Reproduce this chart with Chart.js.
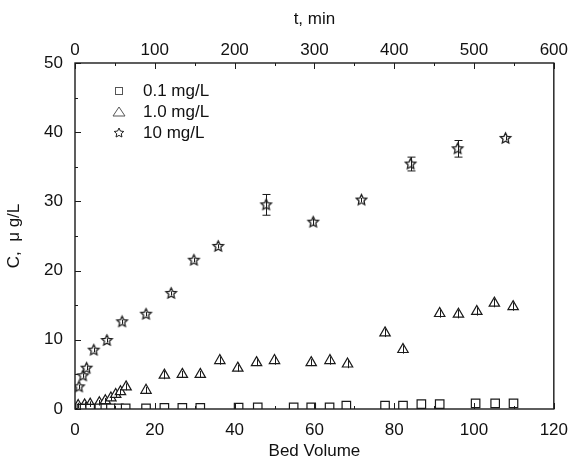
<!DOCTYPE html>
<html>
<head>
<meta charset="utf-8">
<script src="https://cdn.jsdelivr.net/npm/chart.js@4.4.0/dist/chart.umd.min.js"></script>
<style>
  body { margin: 0; background: #fff; }
</style>
</head>
<body>
<canvas id="chart" width="579" height="462"></canvas>
<script>
// 0.1 mg/L
const bvLow = [1.6, 2.4, 3.8, 6.1, 7.6, 9.0, 11.0, 12.7, 17.8, 22.4, 26.9, 31.4, 41.0, 45.8, 54.8, 59.2, 63.8, 68.0, 77.7, 82.2, 86.8, 91.4, 100.4, 105.3, 109.9];
const cLow = [0.05, 0.05, 0.05, 0.1, 0.1, 0.1, 0.1, 0.1, 0.1, 0.15, 0.15, 0.15, 0.2, 0.25, 0.25, 0.25, 0.25, 0.5, 0.5, 0.5, 0.7, 0.7, 0.8, 0.8, 0.8];

// 1.0 mg/L
const bvMid = [0.8, 2.4, 3.8, 6.1, 7.6, 9.0, 10.2, 11.4, 12.8, 17.8, 22.4, 26.9, 31.4, 36.3, 40.8, 45.5, 50.0, 59.2, 63.9, 68.3, 77.7, 82.2, 91.4, 96.1, 100.7, 105.1, 109.8];
const cMid = [0.5, 0.6, 0.7, 0.9, 1.2, 1.6, 2.1, 2.5, 3.2, 2.7, 4.9, 5.0, 5.0, 7.0, 5.9, 6.7, 7.0, 6.7, 7.0, 6.5, 11.0, 8.6, 13.8, 13.7, 14.1, 15.3, 14.8];
const errMid = [0.4, 0.4, 0.4, 0.4, 0.4, 0.4, 0.4, 0.4, 0.5, 0.5, 0.6, 0.5, 0.5, 0.6, 0.5, 0.5, 0.6, 0.5, 0.6, 0.6, 0.6, 0.6, 0.6, 0.6, 0.6, 0.6, 0.6];

// 10 mg/L
const bvHigh = [1.0, 2.0, 2.9, 4.7, 8.0, 11.8, 17.8, 24.1, 29.8, 35.9, 47.9, 59.7, 71.8, 84.1, 95.9, 107.9];
const cHigh = [3.2, 4.8, 5.9, 8.5, 9.9, 12.6, 13.7, 16.7, 21.5, 23.5, 29.5, 27.0, 30.2, 35.4, 37.6, 39.1];
const errHigh = [0.3, 0.3, 0.3, 0.3, 0.3, 0.3, 0.3, 0.3, 0.3, 0.3, 1.5, 0.5, 0.3, 1.0, 1.2, 0.3];

const seriesNames = ["0.1 mg/L", "1.0 mg/L", "10 mg/L"];
const ink = "#1a1a1a";
const fontFamily = "'Liberation Sans', Arial, sans-serif";

function pts(xs, ys) {
  return xs.map((x, i) => ({ x: x, y: ys[i] }));
}

// hollow star marker
function makeStar(r, lw) {
  const size = Math.ceil(r * 2 + 4);
  const cv = document.createElement("canvas");
  cv.width = size;
  cv.height = size;
  const g = cv.getContext("2d");
  const cx = size / 2, cy = size / 2;
  g.beginPath();
  for (let i = 0; i < 10; i++) {
    const rr = i % 2 === 0 ? r : r * 0.48;
    const a = -Math.PI / 2 + i * Math.PI / 5;
    const px = cx + rr * Math.cos(a), py = cy + rr * Math.sin(a);
    if (i === 0) g.moveTo(px, py); else g.lineTo(px, py);
  }
  g.closePath();
  g.fillStyle = "#fff";
  g.fill();
  g.strokeStyle = ink;
  g.lineWidth = lw;
  g.stroke();
  return cv;
}
const starImg = makeStar(5.5, 1.3);
const starSmall = makeStar(5, 1);

const errorBars = {
  id: "errorBars",
  afterDatasetsDraw(chart) {
    const ctx = chart.ctx;
    const xs = chart.scales.x, ys = chart.scales.y;
    ctx.save();
    ctx.strokeStyle = ink;
    ctx.lineWidth = 1;
    chart.data.datasets.forEach((ds) => {
      if (!ds.err) return;
      ds.data.forEach((p, i) => {
        const px = Math.round(xs.getPixelForValue(p.x)) + 0.5;
        const y1 = ys.getPixelForValue(p.y + ds.err[i]);
        const y2 = ys.getPixelForValue(p.y - ds.err[i]);
        ctx.beginPath();
        ctx.moveTo(px, y1);
        ctx.lineTo(px, y2);
        if (y2 - y1 > 10) {
          ctx.moveTo(px - 4, y1); ctx.lineTo(px + 4, y1);
          ctx.moveTo(px - 4, y2); ctx.lineTo(px + 4, y2);
        }
        ctx.stroke();
      });
    });
    ctx.restore();
  }
};

const frame = {
  id: "frame",
  afterDraw(chart) {
    const ctx = chart.ctx;
    const a = chart.chartArea;
    const xs = chart.scales.x, ys = chart.scales.y, ts = chart.scales.x2;
    ctx.save();
    ctx.strokeStyle = ink;
    ctx.lineWidth = 1.4;
    ctx.strokeRect(a.left, a.top, a.right - a.left, a.bottom - a.top);
    ctx.lineWidth = 1;
    ctx.beginPath();
    for (let v = 0; v <= 120; v += 10) {
      const px = Math.round(xs.getPixelForValue(v)) + 0.5;
      const len = v % 20 === 0 ? 6 : 3;
      ctx.moveTo(px, a.bottom); ctx.lineTo(px, a.bottom - len);
    }
    for (let v = 0; v <= 50; v += 5) {
      const py = Math.round(ys.getPixelForValue(v)) + 0.5;
      const len = v % 10 === 0 ? 6 : 3;
      ctx.moveTo(a.left, py); ctx.lineTo(a.left + len, py);
    }
    for (let v = 0; v <= 600; v += 50) {
      const px = Math.round(ts.getPixelForValue(v)) + 0.5;
      const len = v % 100 === 0 ? 6 : 3;
      ctx.moveTo(px, a.top); ctx.lineTo(px, a.top + len);
    }
    ctx.stroke();

    // legend inside the plot
    const lx = a.left + 44, tx = a.left + 68;
    const rows = [a.top + 28, a.top + 49, a.top + 70];
    ctx.fillStyle = "#111";
    ctx.font = "17px " + fontFamily;
    ctx.textBaseline = "middle";
    rows.forEach((ry, i) => ctx.fillText(seriesNames[i], tx, ry));
    ctx.strokeStyle = "#555";
    ctx.lineWidth = 1;
    ctx.strokeRect(lx - 3.5, rows[0] - 3.5, 7, 7);
    ctx.beginPath();
    ctx.moveTo(lx, rows[1] - 5); ctx.lineTo(lx + 6, rows[1] + 4); ctx.lineTo(lx - 6, rows[1] + 4); ctx.closePath();
    ctx.stroke();
    ctx.drawImage(starSmall, lx - starSmall.width / 2, rows[2] - starSmall.height / 2);
    ctx.restore();
  }
};

const tickFont = { family: fontFamily, size: 17 };
const titleFont = { family: fontFamily, size: 17 };

new Chart(document.getElementById("chart"), {
  type: "scatter",
  data: {
    datasets: [
      {
        label: seriesNames[0],
        data: pts(bvLow, cLow),
        pointStyle: "rect",
        pointRadius: 6,
        borderColor: ink,
        backgroundColor: "#fff",
        borderWidth: 1.2
      },
      {
        label: seriesNames[1],
        data: pts(bvMid, cMid),
        err: errMid,
        pointStyle: "triangle",
        pointRadius: 6,
        borderColor: ink,
        backgroundColor: "#fff",
        borderWidth: 1.2
      },
      {
        label: seriesNames[2],
        data: pts(bvHigh, cHigh),
        err: errHigh,
        pointStyle: starImg,
        pointRadius: 6,
        borderColor: ink,
        backgroundColor: "#fff"
      }
    ]
  },
  options: {
    responsive: false,
    animation: false,
    layout: { padding: { left: 0, right: 15, top: 0, bottom: 0 } },
    plugins: {
      legend: { display: false },
      tooltip: { enabled: false }
    },
    scales: {
      x: {
        type: "linear",
        position: "bottom",
        min: 0,
        max: 120,
        ticks: { stepSize: 20, font: tickFont, color: "#111", padding: 11 },
        grid: { display: false, drawTicks: false },
        border: { display: false },
        title: { display: true, text: "Bed Volume", font: titleFont, color: "#111", padding: { top: 0, bottom: 0 } },
        afterFit(s) { s.height = 53; }
      },
      x2: {
        type: "linear",
        position: "top",
        min: 0,
        max: 600,
        ticks: { stepSize: 100, font: tickFont, color: "#111", padding: 2 },
        grid: { display: false, drawTicks: false },
        border: { display: false },
        title: { display: true, text: "t, min", font: titleFont, color: "#111", padding: { top: 9, bottom: 0 } },
        afterFit(s) { s.height = 63; }
      },
      y: {
        type: "linear",
        min: 0,
        max: 50,
        ticks: { stepSize: 10, font: tickFont, color: "#111", padding: 12 },
        grid: { display: false, drawTicks: false },
        border: { display: false },
        title: { display: true, text: "C,  \u03bc g/L", font: titleFont, color: "#111", padding: { top: 4, bottom: 0 } },
        afterFit(s) { s.width = 75; }
      }
    }
  },
  plugins: [errorBars, frame]
});
</script>
</body>
</html>
